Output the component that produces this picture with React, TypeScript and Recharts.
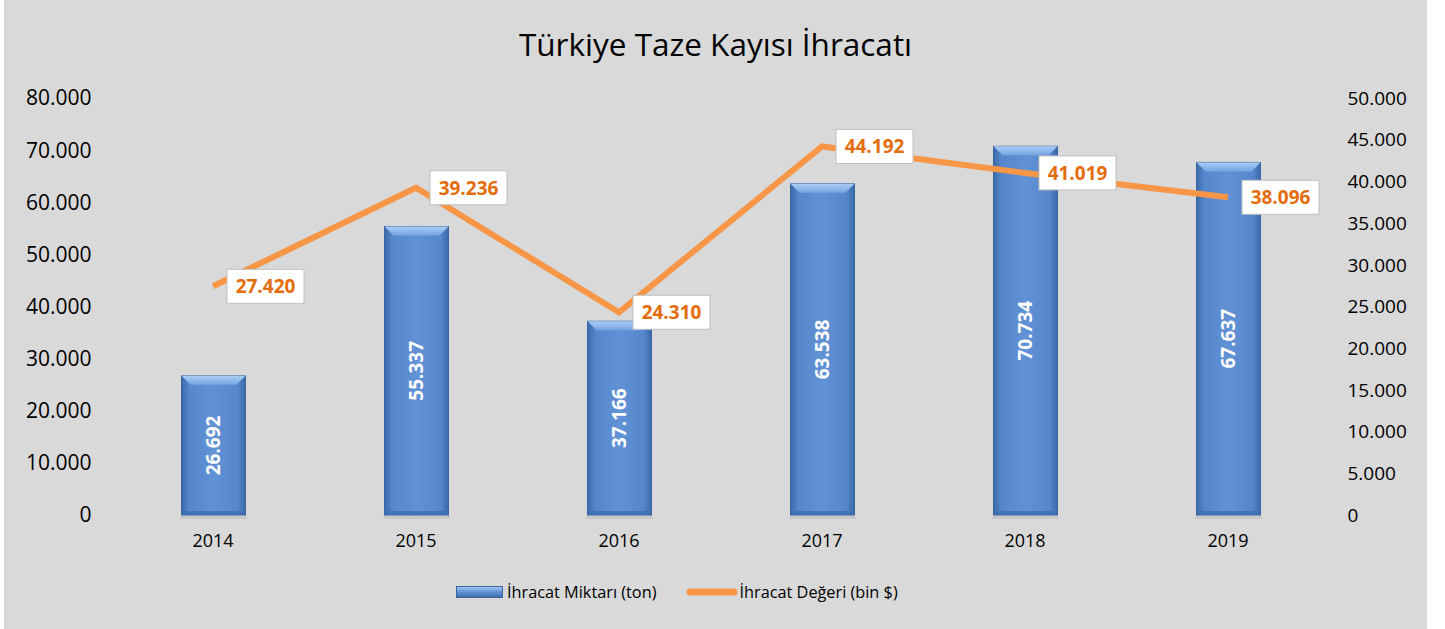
import React from 'react';
import { ComposedChart, Bar, Line, XAxis, YAxis, Legend, LabelList } from 'recharts';

const categories = ['2014', '2015', '2016', '2017', '2018', '2019'];
const quantityTon = [26692, 55337, 37166, 63538, 70734, 67637];
const valueThousandUSD = [27420, 39236, 24310, 44192, 41019, 38096];
const leftTicks = [0, 10000, 20000, 30000, 40000, 50000, 60000, 70000, 80000];
const rightTicks = [0, 5000, 10000, 15000, 20000, 25000, 30000, 35000, 40000, 45000, 50000];

const TITLE = 'Türkiye Taze Kayısı İhracatı';
const BAR_NAME = 'İhracat Miktarı (ton)';
const LINE_NAME = 'İhracat Değeri (bin $)';

const data = categories.map((c, i) => ({ year: c, qty: quantityTon[i], val: valueThousandUSD[i] }));

const fmt = (n: number) => String(Math.round(n)).replace(/\B(?=(\d{3})+(?!\d))/g, '.');

const FONT = '"Open Sans", sans-serif';
const ORANGE = '#f79646';

const BarShape = (props: any) => {
  const { x, y, width, height } = props;
  if (!height || height <= 0) return null;
  const b = Math.min(9, height / 2);
  return (
    <g>
      <defs>
        <linearGradient id="barH" x1="0" y1="0" x2="1" y2="0">
          <stop offset="0%" stopColor="#3b69a8" />
          <stop offset="12%" stopColor="#5687cc" />
          <stop offset="50%" stopColor="#6192d6" />
          <stop offset="88%" stopColor="#5687cc" />
          <stop offset="100%" stopColor="#3b69a8" />
        </linearGradient>
        <linearGradient id="barTop" x1="0" y1="0" x2="0" y2="1">
          <stop offset="0%" stopColor="#a9cdf5" />
          <stop offset="100%" stopColor="#76a4e2" />
        </linearGradient>
      </defs>
      <rect x={x - 1} y={y + height + 1} width={width + 2} height={3} fill="rgba(0,0,0,0.08)" />
      <rect x={x} y={y} width={width} height={height} fill="url(#barH)" stroke="#3a64a0" strokeWidth={1} />
      <polygon
        points={`${x},${y} ${x + width},${y} ${x + width - b},${y + b} ${x + b},${y + b}`}
        fill="url(#barTop)"
      />
      <polygon
        points={`${x},${y + height} ${x + width},${y + height} ${x + width - 4},${y + height - 4} ${x + 4},${y + height - 4}`}
        fill="#3d6eb0"
        opacity={0.8}
      />
    </g>
  );
};

const BarLabel = (props: any) => {
  const { x, y, width, height, value } = props;
  const cx = x + width / 2;
  const cy = y + height / 2;
  return (
    <text
      x={cx}
      y={cy}
      transform={`rotate(-90 ${cx} ${cy})`}
      textAnchor="middle"
      dominantBaseline="central"
      fill="#ffffff"
      fontWeight="bold"
      fontSize={19}
      fontFamily={FONT}
    >
      {fmt(value)}
    </text>
  );
};

const LineLabel = (props: any) => {
  const { x, y, value } = props;
  const w = 77;
  const h = 34;
  const bx = x + 14;
  const by = y - h / 2;
  return (
    <g>
      <rect x={bx} y={by} width={w} height={h} fill="#ffffff" stroke="#bfbfbf" strokeWidth={1} />
      <text
        x={bx + w / 2}
        y={by + h / 2}
        textAnchor="middle"
        dominantBaseline="central"
        fill="#e46c0a"
        fontWeight="bold"
        fontSize={19}
        fontFamily={FONT}
      >
        {fmt(value)}
      </text>
    </g>
  );
};

const LegendContent = () => (
  <div
    style={{
      display: 'flex',
      justifyContent: 'flex-start',
      alignItems: 'center',
      height: 30,
      paddingLeft: 452,
      fontFamily: FONT,
      fontSize: 16.3,
      color: '#000',
    }}
  >
    <svg width={47} height={12} style={{ marginRight: 4 }}>
      <defs>
        <linearGradient id="legBar" x1="0" y1="0" x2="0" y2="1">
          <stop offset="0%" stopColor="#a9cdf5" />
          <stop offset="50%" stopColor="#6192d6" />
          <stop offset="100%" stopColor="#3b69a8" />
        </linearGradient>
      </defs>
      <rect x={0.5} y={0.5} width={46} height={11} fill="url(#legBar)" stroke="#3a64a0" />
    </svg>
    <span style={{ marginRight: 30 }}>{BAR_NAME}</span>
    <svg width={52} height={12} style={{ marginRight: 1 }}>
      <line x1={4} y1={6} x2={48} y2={6} stroke={ORANGE} strokeWidth={7} strokeLinecap="round" />
    </svg>
    <span>{LINE_NAME}</span>
  </div>
);

export default function App() {
  return (
    <div style={{ position: 'absolute', left: 0, top: 0, width: 1445, height: 629, background: '#ffffff' }}>
      <div style={{ position: 'absolute', left: 4, top: 0, width: 1423, height: 629, background: '#d9d9d9' }}>
        <div
          style={{
            position: 'absolute',
            left: 0,
            top: 24,
            width: 1423,
            textAlign: 'center',
            fontFamily: FONT,
            fontSize: 31.5,
            color: '#000',
            lineHeight: '40px',
          }}
        >
          {TITLE}
        </div>
        <ComposedChart
          width={1423}
          height={629}
          data={data}
          margin={{ top: 98, right: 0, bottom: 44, left: 0 }}
          style={{ position: 'absolute', left: 0, top: 0 }}
        >
          <XAxis
            dataKey="year"
            axisLine={false}
            tickLine={false}
            height={40}
            tickMargin={13}
            tick={{ fill: '#000', fontSize: 18, fontFamily: FONT }}
          />
          <YAxis
            yAxisId="left"
            orientation="left"
            width={107.5}
            domain={[0, 80000]}
            ticks={leftTicks}
            interval={0}
            axisLine={false}
            tickLine={false}
            tickMargin={14}
            tickFormatter={fmt}
            tick={{ fill: '#000', fontSize: 21, fontFamily: FONT }}
          />
          <YAxis
            yAxisId="right"
            orientation="right"
            width={97.5}
            domain={[0, 50000]}
            ticks={rightTicks}
            interval={0}
            axisLine={false}
            tickLine={false}
            tickMargin={12}
            tickFormatter={fmt}
            tick={{ fill: '#000', fontSize: 19, fontFamily: FONT }}
          />
          <Legend
            verticalAlign="bottom"
            height={30}
            content={<LegendContent />}
            wrapperStyle={{ position: 'absolute', top: 577, left: 0, width: 1423, height: 30 }}
          />
          <Bar
            yAxisId="left"
            dataKey="qty"
            name={BAR_NAME}
            barSize={64}
            shape={<BarShape />}
            isAnimationActive={false}
          >
            <LabelList dataKey="qty" content={<BarLabel />} />
          </Bar>
          <Line
            yAxisId="right"
            dataKey="val"
            name={LINE_NAME}
            stroke={ORANGE}
            strokeWidth={6}
            dot={false}
            activeDot={false}
            type="linear"
            isAnimationActive={false}
          >
            <LabelList dataKey="val" content={<LineLabel />} />
          </Line>
        </ComposedChart>
      </div>
    </div>
  );
}
